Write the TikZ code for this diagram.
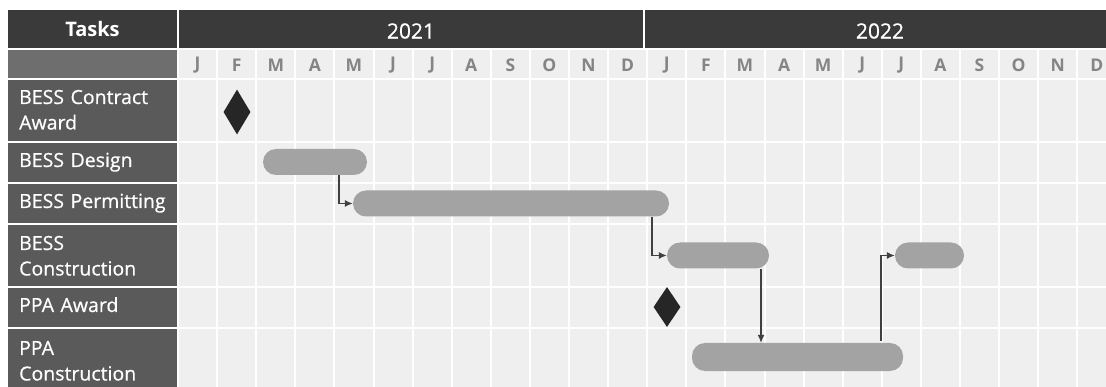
\documentclass[tikz,border=0pt]{standalone}
\usepackage{fontspec}
\setmainfont{Open Sans}
\newfontfamily\labelfont[FakeBold=0.6]{Open Sans}
\usetikzlibrary{arrows.meta,shapes.geometric}
\definecolor{hdr}{HTML}{3A3A3A}
\definecolor{mrow}{HTML}{6E6E6E}
\definecolor{task}{HTML}{5A5A5A}
\definecolor{cell}{HTML}{EFEFEF}
\definecolor{mtext}{HTML}{858585}
\definecolor{bar}{HTML}{A3A3A3}
\definecolor{dia}{HTML}{262626}
\definecolor{link}{HTML}{404040}
\tikzset{
  hdrtext/.style={text=white, font=\labelfont\fontsize{21}{24}\selectfont, inner sep=0pt},
  monthtext/.style={text=mtext, font=\rmfamily\bfseries\fontsize{17.5}{20}\selectfont, inner sep=0pt},
  tasktext/.style={text=white, font=\labelfont\fontsize{19.5}{25.5}\selectfont, inner sep=0pt,
    anchor=base west, text width=160pt, align=left},
  barbox/.style={fill=bar, rounded corners=13pt, inner sep=0pt, minimum height=26pt},
  milestone/.style={diamond, fill=dia, inner sep=0pt, minimum width=27pt},
  linkarrow/.style={draw=link, line width=1.1pt, -{Latex[length=8pt,width=7pt]}},
}
\begin{document}
\begin{tikzpicture}[x=1pt,y=-1pt]
\useasboundingbox (0,0) rectangle (1106,387);
\fill[white] (0,0) rectangle (1106,387);
% header
\fill[hdr] (8,10) rectangle (177,48);
\fill[hdr] (179,10) rectangle (643,48);
\fill[hdr] (645,10) rectangle (1106,48);
\node[hdrtext, font=\rmfamily\bfseries\fontsize{20}{24}\selectfont] (tasks) at (92.5,29) {Tasks};
\node[hdrtext] (y2021) at (411,31) {2021};
\node[hdrtext] (y2022) at (880,31) {2022};
% left column
\fill[mrow] (8,50) rectangle (177,78);
\fill[task] (8,80) rectangle (177,141);
\fill[task] (8,143) rectangle (177,182);
\fill[task] (8,184) rectangle (177,223);
\fill[task] (8,225) rectangle (177,286);
\fill[task] (8,288) rectangle (177,327);
\fill[task] (8,329) rectangle (177,390);
% grid
\fill[cell] (178,50) rectangle (1106,390);
\foreach \k in {1,...,23}
  \draw[white, line width=2pt] ({178+39.1*\k},50) -- ({178+39.1*\k},390);
\foreach \yy in {79,142,183,224,287,328}
  \draw[white, line width=2pt] (178,\yy) -- (1106,\yy);
\draw[white, line width=2pt] (178,50) -- (178,390);
% months
\foreach \m [count=\i from 0] in {J,F,M,A,M,J,J,A,S,O,N,D,J,F,M,A,M,J,J,A,S,O,N,D}
  \node[monthtext] (m\i) at ({178+39.1*(\i+0.5)},65) {\m};
% task labels
\node[tasktext] (t1) at (19,104) {BESS Contract\\Award};
\node[tasktext] (t2) at (19,167) {BESS Design};
\node[tasktext] (t3) at (19,208) {BESS Permitting};
\node[tasktext] (t4) at (19,250) {BESS\\Construction};
\node[tasktext] (t5) at (19,312) {PPA Award};
\node[tasktext] (t6) at (19,355) {PPA\\Construction};
% milestones
\node[milestone, minimum height=45pt] (ms1) at (237,112) {};
\node[milestone, minimum height=40pt] (ms2) at (667,307) {};
% bars
\node[barbox, minimum width=104pt] (design) at (315,162) {};
\node[barbox, minimum width=316pt] (permit) at (511,203.5) {};
\node[barbox, minimum width=102pt] (bc1) at (718,255.5) {};
\node[barbox, minimum width=69pt] (bc2) at (929.5,255.5) {};
\node[barbox, minimum width=211pt, minimum height=28pt] (ppac) at (797.5,357) {};
% links
\draw[linkarrow] ([xshift=24pt]design.south) |- (permit.west);
\draw[linkarrow] ([xshift=141pt]permit.south) |- (bc1.west);
\draw[linkarrow] ([xshift=43pt]bc1.south) -- ([xshift=43pt]bc1.south |- ppac.north);
\draw[linkarrow] ([xshift=83.5pt,yshift=2pt]ppac.north) |- (bc2.west);
\end{tikzpicture}
\end{document}
